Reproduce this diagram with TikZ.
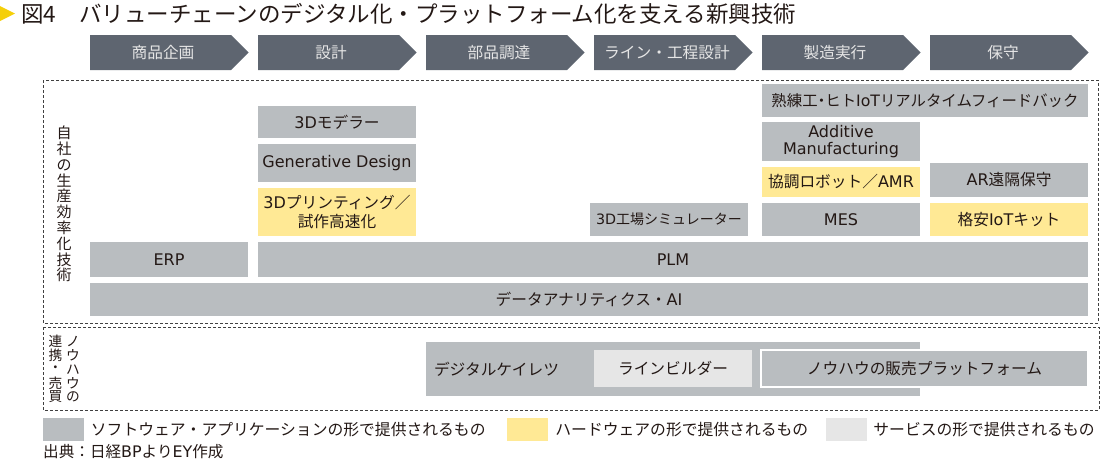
\documentclass[tikz,border=0pt]{standalone}
\usepackage{fontspec}
\setmainfont{Noto Sans CJK JP}
\newfontfamily\latinfont[Scale=1.02]{DejaVu Sans}
\newcommand{\latn}[1]{{\latinfont #1}}
\usepackage{tikz}
\usetikzlibrary{positioning}
\definecolor{chev}{HTML}{5E6570}
\definecolor{softgray}{HTML}{B9BDC0}
\definecolor{hardyellow}{HTML}{FFE995}
\definecolor{servgray}{HTML}{E6E6E6}
\definecolor{ink}{HTML}{231815}
\definecolor{eyyellow}{HTML}{F5CF0A}
\definecolor{dashgray}{HTML}{404040}

\begin{document}
\begin{tikzpicture}[x=1pt, y=-1pt]
    \tikzstyle{tech} = [text=ink, inner sep=0pt, align=center, font=\fontsize{15.7}{19}\selectfont]
    \tikzstyle{soft} = [tech, fill=softgray]
    \tikzstyle{hard} = [tech, fill=hardyellow]
    \tikzstyle{serv} = [tech, fill=servgray]
    \tikzstyle{stage} = [text=servgray, inner sep=0pt, font=\fontsize{15.7}{17}\selectfont]
    \tikzstyle{frame} = [dashgray, line width=0.8pt, dash pattern=on 3pt off 2pt]
    \tikzstyle{vchar} = [text=ink, inner sep=0pt, font=\fontsize{13.7}{14}\selectfont]
    \tikzstyle{swatch} = [minimum width=41, minimum height=23, inner sep=0pt]
    \tikzstyle{legend} = [text=ink, inner sep=0pt, font=\fontsize{15.8}{17}\selectfont]
    \useasboundingbox (0,0) rectangle (1100,466);

    % title
    \fill[eyyellow] (0,6) -- (15,13.5) -- (0,21) -- cycle;
    \node [anchor=west, text=ink, inner sep=0pt, font=\fontsize{22.5}{24}\selectfont] at (21,14) (fignum) {図4};
    \node [anchor=west, text=ink, inner sep=0pt, font=\fontsize{22.5}{24}\selectfont] at (79,14) (title) {バリューチェーンのデジタル化・プラットフォーム化を支える新興技術};

    % value chain
    \foreach \nm/\lbl [count=\i from 0] in {planning/商品企画, design/設計, sourcing/部品調達, lineeng/ライン・工程設計, mfg/製造実行, maint/保守} {
        \fill[chev] (90+168*\i,35) -- ++(141,0) -- ++(17.5,17.5) -- ++(-17.5,17.5) -- ++(-141,0) -- cycle;
        \node [stage] at (163+168*\i,52.5) (\nm) {\lbl};
    }

    \draw[frame] (43,80) rectangle (1098,323);
    \draw[frame] (43,327) rectangle (1099,410);

    \node [tech, font=\fontsize{15}{15.8}\selectfont] at (64,204) (inhouse) {自\\社\\の\\生\\産\\効\\率\\化\\技\\術};
    \foreach \c [count=\k] in {ノ,ウ,ハ,ウ,の}
        \node [vchar] at (73,327.6+13.9*\k) (knowhow\k) {\c};
    \foreach \c [count=\k] in {連,携,・,売,買}
        \node [vchar] at (55.5,327.6+13.9*\k) (trade\k) {\c};

    % in-house technologies
    \node [soft, minimum width=158, minimum height=32] at (337,122) (modeler) {\latn{3D}モデラー};
    \node [soft, minimum width=158, minimum height=38] at (337,163) (gendesign) {\latn{Generative Design}};
    \node [hard, minimum width=158, minimum height=48] at (337,212) (printing) {\latn{3D}プリンティング／\\試作高速化};
    \node [soft, minimum width=158, minimum height=35] at (169,259.5) (erp) {\latn{ERP}};
    \node [soft, minimum width=830, minimum height=35] at (673,259.5) (plm) {\latn{PLM}};
    \node [soft, minimum width=998, minimum height=33] at (589,299.5) (analytics) {データアナリティクス・\latn{AI}};
    \node [soft, minimum width=158, minimum height=33, font=\fontsize{14}{17}\selectfont] at (669,219.5) (factorysim) {\latn{3D}工場シミュレーター};
    \node [soft, minimum width=326, minimum height=33, font=\fontsize{15.4}{17}\selectfont] at (925,100.5) (feedback) {熟練工\makebox[0.5em]{・}ヒト\latn{IoT}リアルタイムフィードバック};
    \node [soft, minimum width=158, minimum height=39, font=\fontsize{15.7}{16.7}\selectfont] at (841,141.5) (additive) {\latn{Additive}\\\latn{Manufacturing}};
    \node [hard, minimum width=158, minimum height=30] at (841,182) (cobot) {協調ロボット／\latn{AMR}};
    \node [soft, minimum width=158, minimum height=34] at (1009,180) (arremote) {\latn{AR}遠隔保守};
    \node [soft, minimum width=158, minimum height=33] at (841,219.5) (mes) {\latn{MES}};
    \node [hard, minimum width=158, minimum height=33] at (1009,219.5) (iotkit) {格安\latn{IoT}キット};

    % know-how exchange
    \node [soft, minimum width=494, minimum height=54, text width=478, align=left] at (673,369) (keiretsu) {デジタルケイレツ};
    \node [serv, minimum width=158, minimum height=37] at (673,368.5) (linebuilder) {ラインビルダー};
    \node [soft, draw=white, line width=1.5pt, minimum width=327, minimum height=37] at (924.5,368.5) (knowhowshop) {ノウハウの販売プラットフォーム};

    % legend
    \node [swatch, fill=softgray] at (63.5,429.5) (swsoft) {};
    \node [legend, right=6.5pt of swsoft] (lgsoft) {ソフトウェア・アプリケーションの形で提供されるもの};
    \node [swatch, fill=hardyellow] at (527.5,429.5) (swhard) {};
    \node [legend, right=7pt of swhard] (lghard) {ハードウェアの形で提供されるもの};
    \node [swatch, fill=servgray] at (846.5,429.5) (swserv) {};
    \node [legend, right=6pt of swserv] (lgserv) {サービスの形で提供されるもの};
    \node [anchor=west, text=ink, inner sep=0pt, font=\fontsize{15.6}{17}\selectfont] at (43,452) (source) {出典：日経\latn{BP}より\latn{EY}作成};
\end{tikzpicture}
\end{document}
